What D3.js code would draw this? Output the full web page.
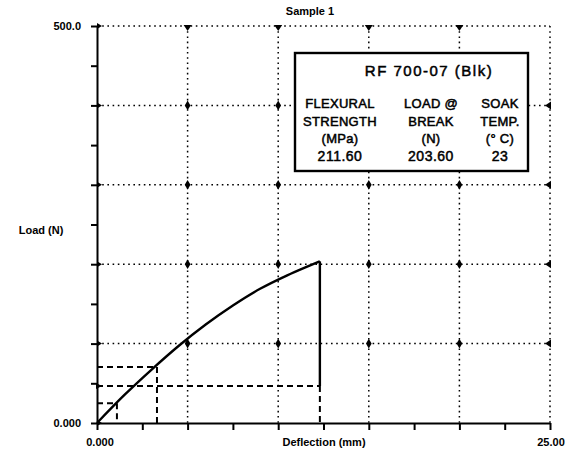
<!DOCTYPE html>
<html><head><meta charset="utf-8">
<script src="https://cdn.jsdelivr.net/npm/d3@7"></script>
<style>body{margin:0;background:#fff}</style>
</head><body>
<svg id="c" width="565" height="452"></svg>
<script>
// ---- data ----
const deflection = [0, 1.5, 3, 4.5, 6, 7.5, 9, 10.5, 11.5, 12.3];
const load = [0, 35, 67, 97, 124, 148, 169, 186, 196, 203.6];
const breakDeflection = 12.3;
const breakLoad = 203.6;
const guideLoads = [25, 70.5, 46.6];
const guideDeflections = [1.1, 3.31, 12.3];
const xDomain = [0, 25];
const yDomain = [0, 500];
const xTickLabels = ["0.000", "25.00"];
const yTickLabels = ["0.000", "500.0"];
const titleText = "Sample 1";
const xTitle = "Deflection (mm)";
const yTitle = "Load (N)";
const boxTitle = "RF 700-07 (Blk)";
const boxHeaders = [["FLEXURAL", "STRENGTH", "(MPa)"], ["LOAD @", "BREAK", "(N)"], ["SOAK", "TEMP.", "(° C)"]];
const boxValues = ["211.60", "203.60", "23"];

// ---- drawing ----
const svg = d3.select("#c");
const x = d3.scaleLinear(xDomain, [97, 550]);
const y = d3.scaleLinear(yDomain, [423, 26]);
const xMajor = d3.range(0, 25.01, 5);
const yMajor = d3.range(0, 500.1, 100);
const xMinor = d3.range(0, 25.01, 2.5);
const yMinor = d3.range(0, 500.1, 50);
const lblFont = "Liberation Sans, Arial, sans-serif";

const dot = "1.6,3.6";
svg.append("g").selectAll("line").data(xMajor.slice(1)).join("line")
  .attr("x1", d => x(d)).attr("x2", d => x(d)).attr("y1", y(500)).attr("y2", y(0))
  .attr("stroke", "#000").attr("stroke-width", 1.5).attr("stroke-dasharray", dot);
svg.append("g").selectAll("line").data(yMajor.slice(1)).join("line")
  .attr("x1", x(0)).attr("x2", x(25)).attr("y1", d => y(d)).attr("y2", d => y(d))
  .attr("stroke", "#000").attr("stroke-width", 1.5).attr("stroke-dasharray", dot);

const pts = [];
xMajor.slice(1, -1).forEach(a => yMajor.slice(1, -1).forEach(b => pts.push([a, b])));
svg.append("g").selectAll("path").data(pts).join("path")
  .attr("d", d3.symbol(d3.symbolDiamond, 28))
  .attr("transform", d => `translate(${x(d[0])},${y(d[1])})`).attr("fill", "#000");
svg.append("g").selectAll("path").data(xMajor.slice(1, -1)).join("path")
  .attr("d", d => `M${x(d)-4},${y(500)-1}L${x(d)+4},${y(500)-1}L${x(d)},${y(500)+5}Z`).attr("fill", "#000");
svg.append("g").selectAll("path").data(yMajor.slice(1, -1)).join("path")
  .attr("d", d => `M${x(25)+1},${y(d)-4}L${x(25)+1},${y(d)+4}L${x(25)-5},${y(d)}Z`).attr("fill", "#000");

const yAx = svg.append("g").attr("transform", `translate(${x(0)},0)`)
  .call(d3.axisLeft(y).tickValues(yMinor).tickSize(6).tickSizeOuter(0).tickFormat(""));
yAx.selectAll("line").attr("stroke-width", 2);
yAx.select(".domain").attr("stroke-width", 2);
svg.append("g").selectAll("path").data(yMajor).join("path")
  .attr("d", d => `M${x(0)},${y(d)-3}L${x(0)+5},${y(d)}L${x(0)},${y(d)+3}Z`).attr("fill", "#000");
const xAx = svg.append("g").attr("transform", `translate(0,${y(0)})`)
  .call(d3.axisBottom(x).tickValues(xMinor).tickSize(7).tickSizeOuter(0).tickFormat(""));
xAx.selectAll("line").attr("stroke-width", 2);
xAx.select(".domain").attr("stroke-width", 2);

const dash = "6,4";
const g = svg.append("g").attr("stroke", "#000").attr("stroke-width", 2).attr("stroke-dasharray", dash).attr("fill", "none");
guideLoads.forEach((l, i) => {
  g.append("line").attr("x1", x(0)).attr("x2", x(guideDeflections[i])).attr("y1", y(l)).attr("y2", y(l));
  g.append("line").attr("x1", x(guideDeflections[i])).attr("x2", x(guideDeflections[i])).attr("y1", y(l)).attr("y2", y(0));
});
svg.append("path").attr("d", `M${x(0)-1},${y(guideLoads[2])-3}L${x(0)+5},${y(guideLoads[2])}L${x(0)-1},${y(guideLoads[2])+3}Z`).attr("fill", "#000");

const data = deflection.map((d, i) => [d, load[i]]);
svg.append("path").datum(data)
  .attr("d", d3.line().x(d => x(d[0])).y(d => y(d[1])).curve(d3.curveMonotoneX))
  .attr("fill", "none").attr("stroke", "#000").attr("stroke-width", 2.4);
svg.append("line").attr("x1", x(breakDeflection)).attr("x2", x(breakDeflection))
  .attr("y1", y(breakLoad)).attr("y2", y(guideLoads[2]))
  .attr("stroke", "#000").attr("stroke-width", 2.4);

const bold = (t, xx, yy, anchor, size) => svg.append("text").text(t).attr("x", xx).attr("y", yy)
  .attr("text-anchor", anchor || "middle").attr("font-family", lblFont).attr("font-weight", "bold")
  .attr("font-size", size || 10).attr("fill", "#000");
bold(titleText, 310, 15, "middle", 11);
bold(yTickLabels[1], 81, 30, "end", 11);
bold(yTickLabels[0], 81, 427, "end", 11);
bold(yTitle, 41, 234, "middle", 11);
bold(xTickLabels[0], 100, 446, "middle", 11);
bold(xTickLabels[1], 551, 446, "middle", 11);
bold(xTitle, 324, 446, "middle", 11);

svg.append("rect").attr("x", 295).attr("y", 53).attr("width", 233).attr("height", 118)
  .attr("fill", "#fff").attr("stroke", "#000").attr("stroke-width", 2.4);
const boxText = (t, xx, yy, size, ls) => svg.append("text").text(t).attr("x", xx).attr("y", yy)
  .attr("text-anchor", "middle").attr("font-family", lblFont).attr("font-size", size)
  .attr("fill", "#000").attr("stroke", "#000").attr("stroke-width", 0.5).attr("letter-spacing", ls);
boxText(boxTitle, 429, 76, 15, 1.5);
const colX = [340, 431, 500];
boxHeaders.forEach((col, i) => col.forEach((t, j) => boxText(t, colX[i], 108 + j * 17.5, 13, 0.3)));
boxValues.forEach((t, i) => boxText(t, colX[i], 161, 14, 0.5));
</script>
</body></html>
